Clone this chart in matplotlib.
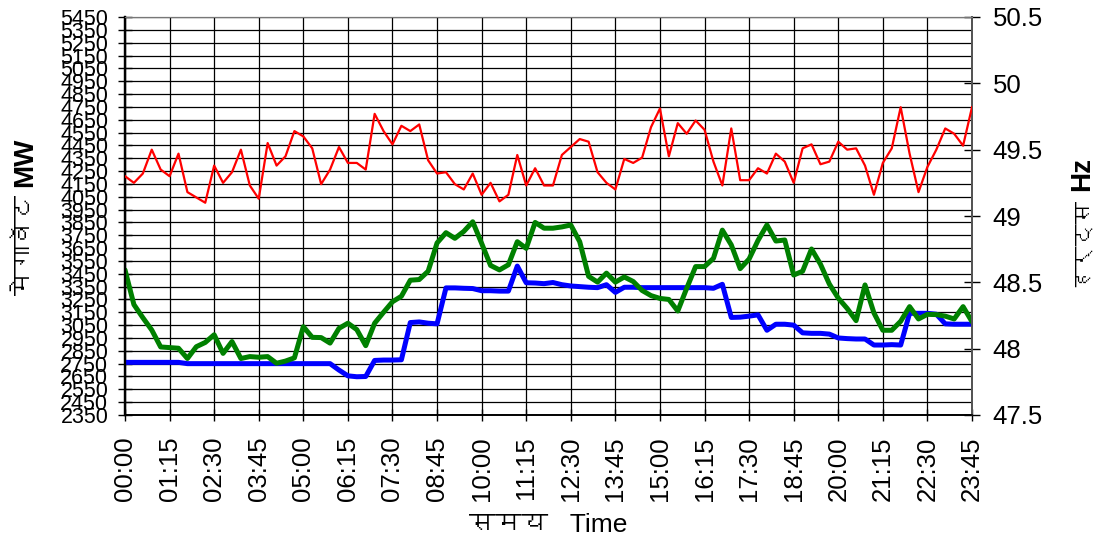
import numpy as np
import matplotlib
matplotlib.use("Agg")
import matplotlib.pyplot as plt
from matplotlib import font_manager
from matplotlib.ft2font import FT2Font


# find any installed family that can draw Devanagari
deva_fonts = []
for f in font_manager.fontManager.ttflist:
    try:
        if 0x092E in FT2Font(f.fname).get_charmap() and f.name not in deva_fonts:
            deva_fonts.append(f.name)
    except Exception:
        pass

plt.rcParams['font.family'] = ['Liberation Sans'] + deva_fonts + ['DejaVu Sans']

# 15-minute slots, 00:00 .. 23:45
tick_labels = ['00:00', '01:15', '02:30', '03:45', '05:00', '06:15', '07:30',
               '08:45', '10:00', '11:15', '12:30', '13:45', '15:00', '16:15',
               '17:30', '18:45', '20:00', '21:15', '22:30', '23:45']

demand_green = [3480, 3210, 3108, 3012, 2880, 2875, 2870, 2790, 2882, 2915,
                2975, 2830, 2922, 2790, 2805, 2800, 2805, 2753, 2770, 2795,
                3038, 2955, 2953, 2910, 3025, 3065, 3015, 2890, 3065, 3150,
                3232, 3275, 3400, 3405, 3470, 3690, 3770, 3726, 3780, 3855,
                3687, 3515, 3480, 3520, 3700, 3648, 3850, 3805, 3805, 3815,
                3830, 3700, 3430, 3385, 3455, 3385, 3425, 3390, 3320, 3280,
                3258, 3250, 3160, 3337, 3506, 3506, 3570, 3790, 3675, 3490,
                3565, 3710, 3830, 3705, 3713, 3440, 3470, 3643, 3525, 3370,
                3260, 3180, 3085, 3363, 3145, 3010, 3010, 3080, 3194, 3098,
                3134, 3132, 3120, 3098, 3194, 3077]

schedule_blue = [2760, 2760, 2760, 2760, 2760, 2760, 2760, 2750, 2750, 2750,
                 2750, 2750, 2750, 2750, 2750, 2750, 2750, 2750, 2750, 2750,
                 2750, 2750, 2750, 2750, 2700, 2655, 2648, 2650, 2775, 2778,
                 2778, 2780, 3070, 3075, 3065, 3060, 3340, 3340, 3337, 3335,
                 3318, 3318, 3315, 3315, 3510, 3380, 3378, 3373, 3382, 3365,
                 3355, 3350, 3345, 3342, 3365, 3305, 3345, 3345, 3342, 3342,
                 3342, 3342, 3342, 3342, 3342, 3342, 3337, 3368, 3110, 3112,
                 3120, 3130, 3010, 3057, 3057, 3050, 2990, 2986, 2986, 2980,
                 2950, 2945, 2942, 2942, 2895, 2895, 2898, 2895, 3142, 3142,
                 3142, 3135, 3060, 3057, 3057, 3057]

freq_red = [49.30, 49.25, 49.32, 49.50, 49.35, 49.30, 49.47, 49.18, 49.14, 49.10,
            49.38, 49.25, 49.33, 49.50, 49.23, 49.13, 49.55, 49.38, 49.45, 49.64,
            49.60, 49.51, 49.24, 49.35, 49.52, 49.40, 49.40, 49.35, 49.77, 49.64,
            49.54, 49.68, 49.64, 49.69, 49.42, 49.32, 49.33, 49.24, 49.20, 49.32,
            49.16, 49.25, 49.11, 49.16, 49.46, 49.23, 49.36, 49.23, 49.23, 49.46,
            49.52, 49.58, 49.56, 49.33, 49.25, 49.20, 49.43, 49.40, 49.44, 49.67,
            49.81, 49.45, 49.70, 49.62, 49.72, 49.65, 49.41, 49.23, 49.66, 49.27,
            49.27, 49.36, 49.32, 49.47, 49.41, 49.25, 49.51, 49.54, 49.39, 49.41,
            49.56, 49.50, 49.51, 49.38, 49.16, 49.40, 49.51, 49.82, 49.47, 49.18,
            49.37, 49.50, 49.66, 49.62, 49.53, 49.82]

slots = np.arange(len(demand_green))
mw_ticks = np.arange(2350, 5451, 100)
hz_ticks = [47.5, 48, 48.5, 49, 49.5, 50, 50.5]
hz_labels = ['47.5', '48', '48.5', '49', '49.5', '50', '50.5']

fig = plt.figure(figsize=(11.05, 5.42), dpi=100)
ax = fig.add_axes([125/1105, 1 - 415/542, 847/1105, 398/542])
ax2 = ax.twinx()

ax.plot(slots, schedule_blue, color='#0000ff', lw=3.6, solid_capstyle='round', zorder=3)
ax.plot(slots, demand_green, color='#008000', lw=3.6, solid_capstyle='round', zorder=4)
ax2.plot(slots, freq_red, color='#ff0000', lw=1.6, zorder=5)

ax.set_xlim(0, 95)
ax.set_ylim(2350, 5450)
ax2.set_ylim(47.5, 50.5)

ax.set_yticks(mw_ticks)
ax.set_yticklabels([str(v) for v in mw_ticks], fontsize=15.5)
ax.set_xticks(slots[::5])
ax.set_xticklabels(tick_labels, rotation=90, fontsize=18.5)
ax2.set_yticks(hz_ticks)
ax2.set_yticklabels(hz_labels, fontsize=18.5)

ax.grid(True, color='black', lw=0.9)
ax.tick_params(axis='y', direction='inout', length=10, width=1, pad=7)
ax.tick_params(axis='x', direction='inout', length=9, width=1, pad=11)
ax2.tick_params(axis='y', direction='inout', length=12, width=1, pad=9)

for a in (ax, ax2):
    a.spines['left'].set_linewidth(1.6)
    a.spines['bottom'].set_linewidth(1.2)
    a.spines['top'].set_color('#777777')
    a.spines['right'].set_color('#555555')
    a.spines['right'].set_linewidth(1.4)

# axis titles: Devanagari part plain below, Latin unit bold above
fig.text(25/1105, 1 - 195/542, 'मेगावॅट', rotation=90,
         ha='center', va='top', fontsize=18)
fig.text(25/1105, 1 - 187/542, 'MW', rotation=90,
         ha='center', va='bottom', fontsize=20, fontweight='bold')
fig.text(1082/1105, 1 - 198/542, 'हर्ट्स', rotation=90,
         ha='center', va='top', fontsize=16)
fig.text(1082/1105, 1 - 191/542, 'Hz', rotation=90,
         ha='center', va='bottom', fontsize=20, fontweight='bold')
fig.text(548/1105, 1 - 525/542, 'समय   Time', ha='center', va='center', fontsize=19)

fig.savefig('out.png', dpi=100)
